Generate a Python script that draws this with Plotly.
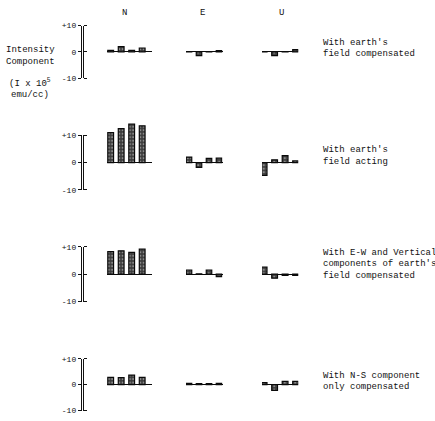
import plotly.graph_objects as go

W, H = 435, 421

# ---------------- data ----------------
components = ["N", "E", "U"]
bar_labels = ["1", "2", "3", "4"]
conditions = [
    ["With earth's", "field compensated"],
    ["With earth's", "field acting"],
    ["With E-W and Vertical", "components of earth's", "field compensated"],
    ["With N-S component", "only compensated"],
]
N_vals = [
    [0.6, 2.0, 0.6, 1.5],
    [10.9, 12.4, 14.0, 13.4],
    [8.2, 8.5, 7.9, 9.1],
    [2.8, 2.7, 3.7, 2.8],
]
E_vals = [
    [0.1, -1.4, 0.1, 0.5],
    [2.0, -1.8, 1.5, 1.6],
    [1.5, 0.1, 1.5, -0.9],
    [0.5, 0.4, 0.4, 0.5],
]
U_vals = [
    [0.1, -1.4, 0.1, 0.9],
    [-4.7, 1.0, 2.5, 0.6],
    [2.6, -1.5, -0.5, -0.5],
    [0.8, -2.2, 1.3, 1.3],
]
tick_vals = [-10, 0, 10]
tick_text = ["-10", "0", "+10"]
y_label_lines = ["Intensity", "Component", "(I x 10<sup>5</sup>", "emu/cc)"]

# ---------------- layout geometry (pixels) ----------------
row_zero_px = [49, 162, 276, 389]
row_scale = [2.7, 2.8, 2.8, 2.65]
col_left_px = [107, 186, 262]
col_pitch = [10.5, 10.0, 10.5]
col_xrange = [(-0.35, 3.95), (-0.3, 3.35), (-0.2, 3.25)]
axis_x_px = 82
header_px = [(124, 9), (202, 9), (281, 9)]
ylabel_px = [(30, 47), (30, 59), (30, 81), (30, 93)]
cond_x_px = 321
cond_y_px = [[40, 51], [149, 161], [254, 266, 278], [380, 391]]

FONT = "Liberation Mono, Courier New, monospace"
INK = "#111111"


def px_x(p):
    return p / W


def px_y(p):
    return 1 - p / H


fig = go.Figure()
layout = {}
series = [N_vals, E_vals, U_vals]
k = 0
for r in range(4):
    z, s = row_zero_px[r], row_scale[r]
    ydom = [px_y(z + 10.5 * s), px_y(z - 15 * s)]
    for c in range(3):
        k += 1
        xs = "" if k == 1 else str(k)
        x0, x1 = col_xrange[c]
        left = col_left_px[c]
        right = left + (x1 - x0) * col_pitch[c]
        fig.add_trace(go.Bar(
            x=list(range(len(bar_labels))), y=series[c][r],
            xaxis="x" + xs, yaxis="y" + xs, showlegend=False,
            width=0.55,
            marker=dict(color="#3c3c3c",
                        line=dict(color="#0a0a0a", width=1.2),
                        pattern=dict(shape=".", fgcolor="#d8d8d8",
                                     bgcolor="#3c3c3c", size=3.5,
                                     solidity=0.35)),
            hovertext=bar_labels,
        ))
        layout["xaxis" + xs] = dict(domain=[px_x(left), px_x(right)],
                                    range=[x0, x1], visible=False,
                                    anchor="y" + xs)
        layout["yaxis" + xs] = dict(domain=ydom, range=[-10.5, 15],
                                    anchor="x" + xs, showgrid=False,
                                    showline=False, showticklabels=False,
                                    ticks="", zeroline=True,
                                    zerolinecolor="#0a0a0a", zerolinewidth=1.3)
    # axis-only subplot for the row
    k += 1
    xs = str(k)
    fig.add_trace(go.Scatter(x=[0.5], y=[0], xaxis="x" + xs, yaxis="y" + xs,
                             mode="markers", marker=dict(opacity=0),
                             showlegend=False, hoverinfo="skip"))
    layout["xaxis" + xs] = dict(domain=[px_x(axis_x_px), px_x(axis_x_px + 1)],
                                range=[0, 1], visible=False, anchor="y" + xs)
    layout["yaxis" + xs] = dict(domain=[px_y(z + 10 * s), px_y(z - 10 * s)],
                                range=[-10, 10], anchor="x" + xs,
                                showgrid=False, zeroline=False,
                                showline=True, linecolor=INK, linewidth=1.4,
                                mirror="ticks", ticks="outside", ticklen=3,
                                tickwidth=1.3, tickcolor=INK,
                                tickvals=tick_vals, ticktext=tick_text,
                                tickfont=dict(family=FONT, size=8, color=INK))

annotations = []
for name, (hx, hy) in zip(components, header_px):
    annotations.append(dict(text=name, x=px_x(hx), y=px_y(hy), xref="paper",
                            yref="paper", showarrow=False, xanchor="center",
                            yanchor="middle",
                            font=dict(family=FONT, size=9, color=INK)))
for line, (lx, ly) in zip(y_label_lines, ylabel_px):
    annotations.append(dict(text=line, x=px_x(lx), y=px_y(ly), xref="paper",
                            yref="paper", showarrow=False, xanchor="center",
                            yanchor="middle",
                            font=dict(family=FONT, size=9, color=INK)))
for lines, ys in zip(conditions, cond_y_px):
    for line, ly in zip(lines, ys):
        annotations.append(dict(text=line, x=px_x(cond_x_px), y=px_y(ly),
                                xref="paper", yref="paper", showarrow=False,
                                xanchor="left", yanchor="middle",
                                font=dict(family=FONT, size=9, color=INK)))

fig.update_layout(width=W, height=H, margin=dict(l=0, r=0, t=0, b=0),
                  paper_bgcolor="white", plot_bgcolor="rgba(0,0,0,0)",
                  bargap=0.45, annotations=annotations, **layout)

fig.write_html("out.html")
